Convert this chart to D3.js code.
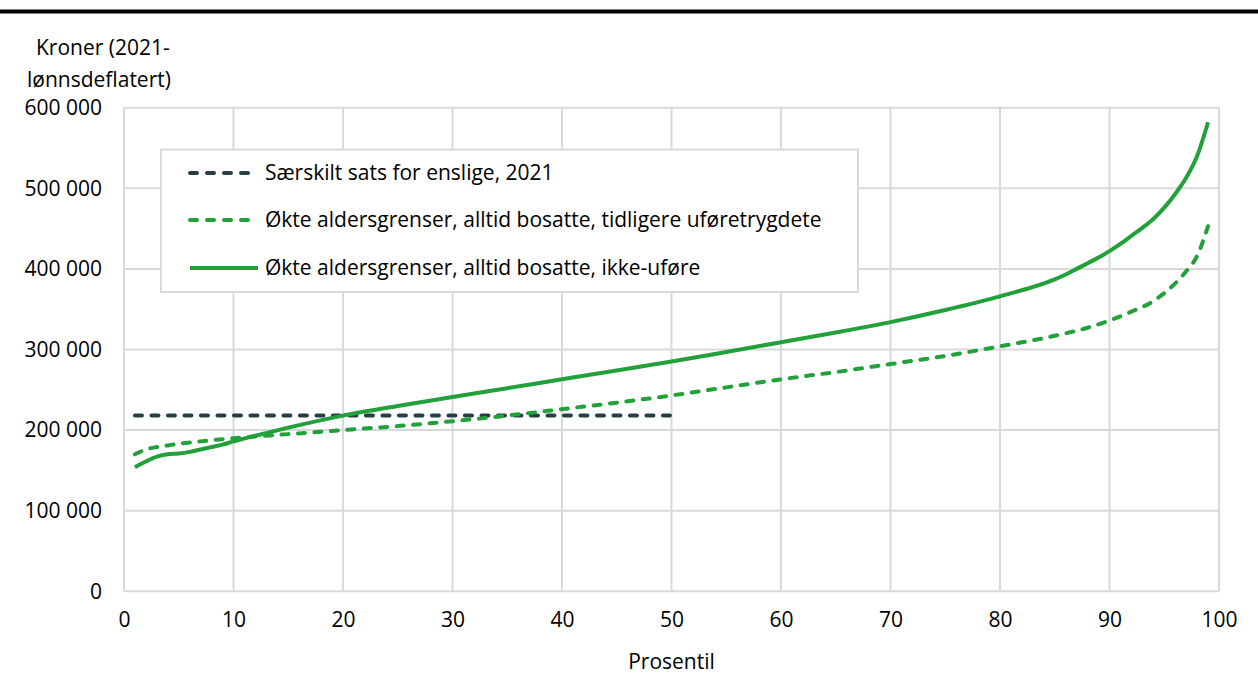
<!DOCTYPE html>
<html><head><meta charset="utf-8">
<script src="https://cdn.jsdelivr.net/npm/d3@7"></script>
<style>
html,body{margin:0;padding:0;background:#fff;}
svg{display:block;font-family:"Open Sans",sans-serif;}
</style></head>
<body>
<svg id="c" width="1258" height="675"></svg>
<script>
const yTicks = [0,100000,200000,300000,400000,500000,600000];
const xTicks = [0,10,20,30,40,50,60,70,80,90,100];
const seriesNames = ["Særskilt sats for enslige, 2021","Økte aldersgrenser, alltid bosatte, tidligere uføretrygdete","Økte aldersgrenser, alltid bosatte, ikke-uføre"];

const satsPct = [1,50];
const satsVal = [218000,218000];

const uforePct = [1,2,3,4,5,7,10,15,20,25,30,35,40,45,50,55,60,65,70,75,80,85,88,90,92,94,95,96,97,98,99];
const uforeVal = [170000,176000,179000,181000,183000,186000,190000,195000,200000,205000,211000,218000,226000,234000,243000,253000,263000,272000,282000,292000,304000,317000,327000,336000,347000,360000,370000,382000,397000,416000,453000];

const ikkePct = [1,2,3,4,5,6,7,8,9,10,12,15,20,25,30,35,40,45,50,55,60,65,70,75,80,85,86,87,88,89,90,91,92,93,94,95,96,97,98,99];
const ikkeVal = [154000,161000,167000,170000,171000,173000,176000,179000,182000,186000,193000,203000,218000,230000,241000,252000,263000,274000,285000,297000,309000,321000,334000,349000,366000,387000,393000,400000,407000,414000,422000,431000,441000,451000,462000,476000,493000,513000,540000,582000];

const svg = d3.select("#c");
const L=124, R=1219, T=107.7, B=591.3;
const FS=21;
const x = d3.scaleLinear().domain([0,100]).range([L,R]);
const y = d3.scaleLinear().domain([0,600000]).range([B,T]);
const grid="#d9d9d9", dark="#263f47", green="#22a03a";
const fmt = v => d3.format(",")(v).replace(/,/g," ");

// top rule
svg.append("line").attr("x1",0).attr("x2",1258).attr("y1",11.5).attr("y2",11.5).attr("stroke","#000").attr("stroke-width",4);

// grid
const g = svg.append("g");
g.selectAll(".hg").data(yTicks).join("line").attr("x1",L).attr("x2",R).attr("y1",d=>y(d)).attr("y2",d=>y(d)).attr("stroke",grid).attr("stroke-width",2);
g.selectAll(".vg").data(xTicks).join("line").attr("x1",d=>x(d)).attr("x2",d=>x(d)).attr("y1",T).attr("y2",B).attr("stroke",grid).attr("stroke-width",2);

// axes
const yAx = svg.append("g").attr("transform",`translate(${L},0)`).call(d3.axisLeft(y).tickValues(yTicks).tickFormat(fmt).tickSize(0).tickPadding(22));
yAx.select(".domain").remove();
yAx.selectAll("text").attr("font-size",FS).attr("fill","#000").attr("font-family","Open Sans");
const xAx = svg.append("g").attr("transform",`translate(0,${B})`).call(d3.axisBottom(x).tickValues(xTicks).tickSize(0).tickPadding(21));
xAx.select(".domain").remove();
xAx.selectAll("text").attr("font-size",FS).attr("fill","#000").attr("font-family","Open Sans");

// titles
svg.append("text").attr("x",36).attr("y",55).attr("font-size",FS).text("Kroner (2021-");
svg.append("text").attr("x",27).attr("y",87).attr("font-size",FS).text("lønnsdeflatert)");
svg.append("text").attr("x",x(50)).attr("y",669).attr("text-anchor","middle").attr("font-size",FS).text("Prosentil");

// lines
const line = d3.line().x(d=>x(d[0])).y(d=>y(d[1])).curve(d3.curveMonotoneX);
const data = [
  {pts:d3.zip(satsPct,satsVal), color:dark, dash:"7 9.5"},
  {pts:d3.zip(uforePct,uforeVal), color:green, dash:"7 9.5"},
  {pts:d3.zip(ikkePct,ikkeVal), color:green, dash:null}
];
svg.selectAll(".ln").data(data).join("path").attr("d",d=>line(d.pts)).attr("fill","none")
  .attr("stroke",d=>d.color).attr("stroke-width",4).attr("stroke-linecap",d=>d.dash?"round":"butt")
  .attr("stroke-dasharray",d=>d.dash);

// legend
const lg = svg.append("g");
lg.append("rect").attr("x",161).attr("y",149.5).attr("width",697).attr("height",142.5).attr("fill","#fff").attr("stroke",grid).attr("stroke-width",2);
const ly = [173,220,268];
data.forEach((d,i)=>{
  lg.append("line").attr("x1",190).attr("x2",258).attr("y1",ly[i]).attr("y2",ly[i]).attr("stroke",d.color).attr("stroke-width",4)
    .attr("stroke-linecap",d.dash?"round":"butt").attr("stroke-dasharray",d.dash?"7 10":null);
  lg.append("text").attr("x",265).attr("y",ly[i]).attr("dy","0.35em").attr("font-size",FS).text(seriesNames[i]);
});
</script>
</body></html>
